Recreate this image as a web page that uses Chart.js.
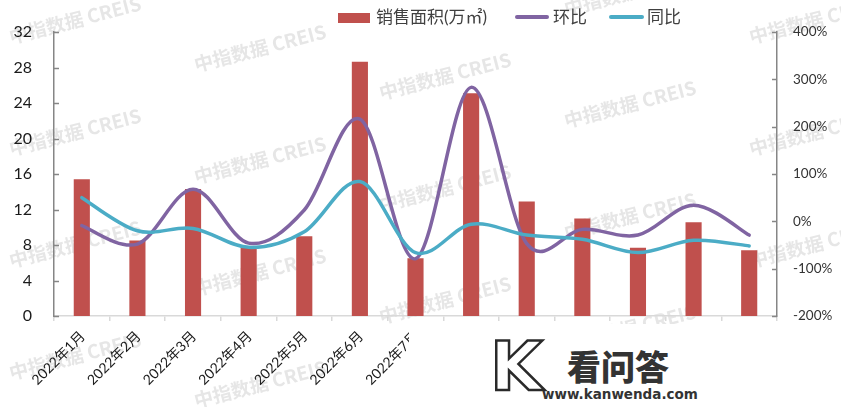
<!DOCTYPE html>
<html>
<head>
<meta charset="utf-8">
<script src="https://cdn.jsdelivr.net/npm/chart.js@4.4.1/dist/chart.umd.min.js"></script>
<style>
  html, body { margin:0; padding:0; background:#fff; }
  #wrap { position:relative; width:841px; height:407px; overflow:hidden; }
  #c { position:absolute; left:0; top:0; }
  .lg { position:absolute; font-family: Lato, "Noto Sans CJK SC", sans-serif; font-size:17px; color:#404040; line-height:18px; white-space:nowrap; }
  .sw { position:absolute; }
  #cover { position:absolute; left:409px; top:324px; width:432px; height:83px; background:#fff; }
  .logo { position:absolute; white-space:nowrap; }
</style>
</head>
<body>
<div id="wrap">
  <canvas id="c" width="841" height="407"></canvas>
  <div id="legend"></div>
  <div id="cover">
    <div class="logo" style="left:81px; top:8px; font:bold 68px 'DejaVu Sans', sans-serif; color:#fff; -webkit-text-stroke:2.5px #2a2a2a; line-height:70px;">K</div>
    <div class="logo" style="left:158px; top:25px; font:900 34px 'Noto Sans CJK SC', sans-serif; color:#333; line-height:34px;">看问答</div>
    <div class="logo" style="left:133px; top:62px; font:bold 13.5px 'DejaVu Sans', sans-serif; color:#333; line-height:16px;">www.kanwenda.com</div>
  </div>
</div>
<script>
// ---- data ----
const categories = ['2022年1月','2022年2月','2022年3月','2022年4月','2022年5月','2022年6月','2022年7月','2022年8月','2022年9月','2022年10月','2022年11月','2022年12月','2023年1月'];
const salesArea = [15.4, 8.5, 14.3, 7.7, 9.0, 28.65, 6.5, 25.1, 12.9, 11.0, 7.7, 10.55, 7.4];   // 万㎡
const momChange = [-9, -48, 68, -46, 24, 216, -79, 283, -47, -17, -29, 34, -29];             // 环比 %
const yoyChange = [50, -20, -15, -55, -22, 84, -66, -6, -29, -38, -66, -40, -52];             // 同比 %
const seriesNames = ['销售面积(万㎡)', '环比', '同比'];
const leftAxisRange = [0, 32, 4];
const rightAxisRange = [-200, 400, 100];
const watermarkText = '中指数据 CREIS';

const COLORS = { bar:'#C0504D', mom:'#8064A2', yoy:'#4BACC6' };

// ---- legend (HTML text) ----
(function(){
  const lg = document.getElementById('legend');
  const items = [
    {sw:{left:338, top:13, w:32, h:10, r:0, c:COLORS.bar}, tx:376, name:seriesNames[0]},
    {sw:{left:515, top:15, w:34, h:4, r:2, c:COLORS.mom}, tx:553, name:seriesNames[1]},
    {sw:{left:609, top:15, w:35, h:4, r:2, c:COLORS.yoy}, tx:647, name:seriesNames[2]},
  ];
  items.forEach(it => {
    const s = document.createElement('div');
    s.className = 'sw';
    s.style.cssText = `left:${it.sw.left}px;top:${it.sw.top}px;width:${it.sw.w}px;height:${it.sw.h}px;border-radius:${it.sw.r}px;background:${it.sw.c}`;
    lg.appendChild(s);
    const t = document.createElement('div');
    t.className = 'lg';
    t.style.left = it.tx + 'px';
    t.style.top = '8px';
    t.textContent = it.name;
    lg.appendChild(t);
  });
})();

// ---- plugins ----
const bgWatermark = {
  id:'bgWatermark',
  beforeDraw(chart){
    const ctx = chart.ctx;
    ctx.save();
    ctx.fillStyle = '#fff';
    ctx.fillRect(0,0,chart.width,chart.height);
    ctx.font = 'bold 19px "Noto Sans CJK SC", sans-serif';
    ctx.fillStyle = 'rgba(200,200,200,0.45)';
    ctx.textAlign = 'center';
    ctx.textBaseline = 'middle';
    for (let i = 0; i < 5; i++) {
      for (let j = -2; j < 5; j++) {
        const x = 75 + 185 * i;
        const y = 20 + 28 * i + 112 * j;
        if (y < -40 || y > 450) continue;
        ctx.save();
        ctx.translate(x, y);
        ctx.rotate(-14.5 * Math.PI / 180);
        ctx.fillText(watermarkText, 0, 0);
        ctx.restore();
      }
    }
    ctx.restore();
  }
};
// Excel-like smoothing: uniform Catmull-Rom control points (1/6 of neighbour chord)
const excelSmooth = {
  id:'excelSmooth',
  beforeDatasetsDraw(chart){
    chart.getSortedVisibleDatasetMetas().forEach(meta => {
      if (meta.type !== 'line') return;
      const line = meta.dataset;
      line.updateControlPoints(chart.chartArea, 'x');
      const pts = meta.data;
      const n = pts.length;
      for (let i = 0; i < n; i++) {
        const p = pts[i];
        const prev = pts[Math.max(0, i - 1)];
        const next = pts[Math.min(n - 1, i + 1)];
        const dx = (next.x - prev.x) / 6, dy = (next.y - prev.y) / 6;
        p.cp1x = p.x - dx; p.cp1y = p.y - dy;
        p.cp2x = p.x + dx; p.cp2y = p.y + dy;
      }
      delete line._path;
    });
  }
};
const innerTicks = {
  id:'innerTicks',
  afterDraw(chart){
    const ctx = chart.ctx;
    const yl = chart.scales.y, yr = chart.scales.y1;
    ctx.save();
    ctx.strokeStyle = '#868686';
    ctx.lineWidth = 1.5;
    ctx.beginPath();
    for (let v = leftAxisRange[0]; v <= leftAxisRange[1]; v += leftAxisRange[2]) {
      const p = Math.round(yl.getPixelForValue(v)) + 0.5;
      ctx.moveTo(yl.right, p); ctx.lineTo(yl.right + 5, p);
    }
    for (let v = rightAxisRange[0]; v <= rightAxisRange[1]; v += rightAxisRange[2]) {
      const p = Math.round(yr.getPixelForValue(v)) + 0.5;
      ctx.moveTo(yr.left, p); ctx.lineTo(yr.left - 5, p);
    }
    ctx.stroke();
    ctx.restore();
  }
};

const FONT = 'Lato, "Noto Sans CJK SC", sans-serif';

new Chart(document.getElementById('c'), {
  data: {
    labels: categories,
    datasets: [
      { type:'bar', label:seriesNames[0], data:salesArea, backgroundColor:COLORS.bar, yAxisID:'y', order:3,
        barPercentage:0.29, categoryPercentage:1.0 },
      { type:'line', label:seriesNames[1], data:momChange, borderColor:COLORS.mom, backgroundColor:COLORS.mom,
        borderWidth:3.5, pointRadius:0, tension:0.4, capBezierPoints:false, yAxisID:'y1', order:2, borderCapStyle:'round' },
      { type:'line', label:seriesNames[2], data:yoyChange, borderColor:COLORS.yoy, backgroundColor:COLORS.yoy,
        borderWidth:3.5, pointRadius:0, tension:0.4, capBezierPoints:false, yAxisID:'y1', order:1, borderCapStyle:'round' }
    ]
  },
  options: {
    responsive:false,
    devicePixelRatio:1,
    animation:false,
    layout:{ padding:{ top:32, left:0, right:0, bottom:0 } },
    plugins:{ legend:{ display:false }, tooltip:{ enabled:false } },
    scales:{
      x:{
        offset:true,
        grid:{ offset:true, drawOnChartArea:false, drawTicks:true, tickLength:5, color:'#d9d9d9', lineWidth:1.5 },
        border:{ color:'#d9d9d9', width:1.5 },
        ticks:{ autoSkip:false, maxRotation:45, minRotation:45, padding:7, labelOffset:1, color:'#1a1a1a', font:{ family:FONT, size:14 } },
        afterFit(s){ s.height = 91; }
      },
      y:{
        position:'left',
        min:leftAxisRange[0], max:leftAxisRange[1],
        grid:{ display:false, drawTicks:false },
        border:{ color:'#868686', width:1.5 },
        ticks:{ stepSize:leftAxisRange[2], padding:22, color:'#1a1a1a', font:{ family:FONT, size:16 } },
        afterFit(s){ s.width = 54; }
      },
      y1:{
        position:'right',
        min:rightAxisRange[0], max:rightAxisRange[1],
        grid:{ display:false, drawTicks:false },
        border:{ color:'#868686', width:1.5 },
        ticks:{ stepSize:rightAxisRange[2], padding:16, color:'#333', font:{ family:FONT, size:13.5 },
                callback:(v)=> v + '%' },
        afterFit(s){ s.width = 64; }
      }
    }
  },
  plugins:[bgWatermark, excelSmooth, innerTicks]
});
</script>
</body>
</html>
